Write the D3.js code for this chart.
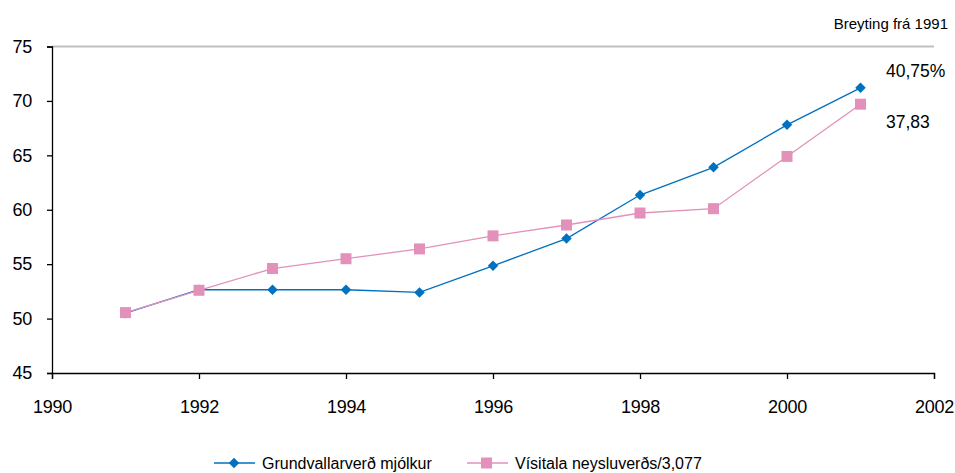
<!DOCTYPE html>
<html>
<head>
<meta charset="utf-8">
<script src="https://cdn.jsdelivr.net/npm/d3@7"></script>
<style>
  body { margin: 0; background: #fff; }
  text { font-family: "Liberation Sans", Arial, sans-serif; fill: #000; }
</style>
</head>
<body>
<div class="chart-container"></div>
<script>
var years = [1991, 1992, 1993, 1994, 1995, 1996, 1997, 1998, 1999, 2000, 2001];
var milkPrice = [50.5, 52.65, 52.65, 52.65, 52.4, 54.85, 57.35, 61.35, 63.9, 67.8, 71.2];
var cpiScaled = [50.55, 52.6, 54.6, 55.5, 56.4, 57.6, 58.6, 59.7, 60.1, 64.9, 69.7];
var seriesNames = ['Grundvallarverð mjólkur', 'Vísitala neysluverðs/3,077'];
var endLabels = ['40,75%', '37,83'];
var noteLabel = 'Breyting frá 1991';
var xTicks = [1990, 1992, 1994, 1996, 1998, 2000, 2002];
var yTicks = [45, 50, 55, 60, 65, 70, 75];

var width = 955, height = 473;
var margin = {top: 46.5, right: 21, bottom: 100, left: 52};

var blue = '#0070c0';
var pink = '#e391bb';

var svg = d3.select('.chart-container').append('svg')
  .attr('width', width)
  .attr('height', height);

var x = d3.scaleLinear()
  .domain([1990, 2002])
  .range([margin.left, width - margin.right]);

var y = d3.scaleLinear()
  .domain([45, 75])
  .range([height - margin.bottom, margin.top]);

// top border line
svg.append('line')
  .attr('x1', x(1990)).attr('x2', x(2002))
  .attr('y1', y(75)).attr('y2', y(75))
  .style('stroke', '#c0c0c0')
  .style('stroke-width', 2);

var gY = svg.append('g')
  .attr('transform', `translate(${x(1990)},0)`)
  .call(d3.axisLeft(y).tickValues(yTicks).tickSize(5).tickPadding(15));

var gX = svg.append('g')
  .attr('transform', `translate(0,${y(45)})`)
  .call(d3.axisBottom(x).tickValues(xTicks).tickFormat(d3.format('d')).tickSize(6).tickPadding(21));

svg.selectAll('.domain, .tick line')
  .style('stroke', '#000')
  .style('stroke-width', 1.3);
svg.selectAll('.tick text')
  .style('font-size', '18px')
  .style('letter-spacing', '-0.3px')
  .style('font-family', '"Liberation Sans", Arial, sans-serif');

var line = d3.line()
  .x(d => x(d[0]))
  .y(d => y(d[1]));

var milkData = years.map((yr, i) => [yr, milkPrice[i]]);
var cpiData = years.map((yr, i) => [yr, cpiScaled[i]]);

svg.append('path')
  .datum(milkData)
  .attr('d', line)
  .style('fill', 'none')
  .style('stroke', blue)
  .style('stroke-width', 1.3);

var diamond = d3.symbol().type(d3.symbolDiamond2).size(70);
svg.selectAll('.milk-point')
  .data(milkData)
  .enter().append('path')
    .attr('class', 'milk-point')
    .attr('transform', d => `translate(${x(d[0])},${y(d[1])})`)
    .attr('d', diamond)
    .style('fill', blue);

svg.append('path')
  .datum(cpiData)
  .attr('d', line)
  .style('fill', 'none')
  .style('stroke', pink)
  .style('stroke-width', 1.3);

svg.selectAll('.cpi-point')
  .data(cpiData)
  .enter().append('rect')
    .attr('class', 'cpi-point')
    .attr('x', d => x(d[0]) - 5.5)
    .attr('y', d => y(d[1]) - 5.5)
    .attr('width', 11)
    .attr('height', 11)
    .style('fill', pink);

// annotations
svg.append('text')
  .attr('x', 948).attr('y', 29)
  .attr('text-anchor', 'end')
  .style('font-size', '15px')
  .text(noteLabel);

svg.append('text')
  .attr('x', 886).attr('y', 77)
  .style('font-size', '17.5px')
  .text(endLabels[0]);

svg.append('text')
  .attr('x', 886).attr('y', 128)
  .style('font-size', '17.5px')
  .text(endLabels[1]);

// legend
var legend = svg.append('g').attr('transform', 'translate(214,463)');

legend.append('line')
  .attr('x1', 0).attr('x2', 41)
  .style('stroke', blue).style('stroke-width', 1.3);
legend.append('path')
  .attr('transform', 'translate(20,0)')
  .attr('d', diamond)
  .style('fill', blue);
legend.append('text')
  .attr('x', 48).attr('y', 6)
  .style('font-size', '16px')
  .text(seriesNames[0]);

legend.append('line')
  .attr('x1', 253).attr('x2', 294)
  .style('stroke', pink).style('stroke-width', 1.3);
legend.append('rect')
  .attr('x', 267).attr('y', -5.5)
  .attr('width', 11).attr('height', 11)
  .style('fill', pink);
legend.append('text')
  .attr('x', 301).attr('y', 6)
  .style('font-size', '16px')
  .text(seriesNames[1]);
</script>
</body>
</html>
